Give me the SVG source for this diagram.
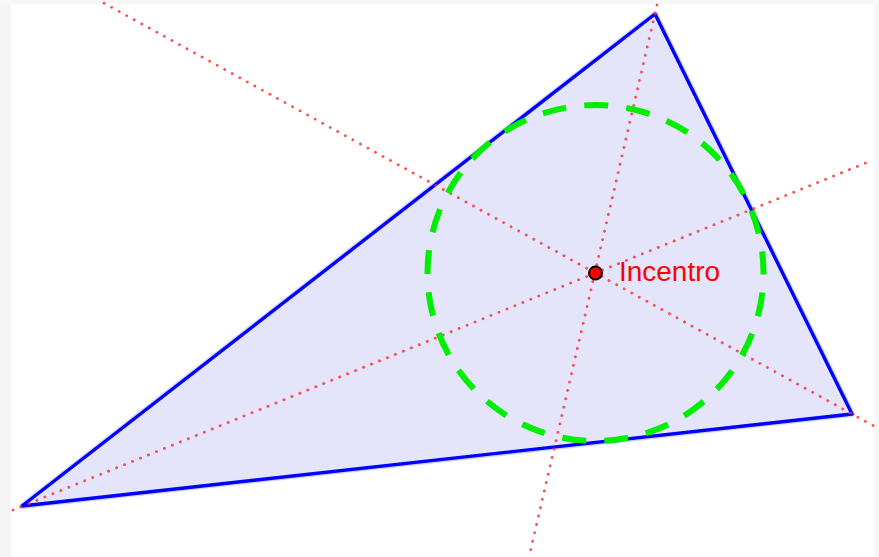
<svg xmlns="http://www.w3.org/2000/svg" width="879" height="557" viewBox="0 0 879 557">
<style>
.bis{stroke:#ff3030;stroke-width:2.8;stroke-dasharray:0.1 8.5;stroke-linecap:round;fill:none;opacity:0.85}
.tri{fill:#e4e4fa;stroke:#0000ff;stroke-width:3.4;stroke-linejoin:round}
.halo{fill:none;stroke:#8080ff;stroke-width:6;stroke-linejoin:round;opacity:0.35}
.inc{fill:none;stroke:#00ee00;stroke-width:6;stroke-dasharray:24 18.24;stroke-dashoffset:22.5}
.lbl{font-family:"Liberation Sans",Arial,sans-serif;font-size:27px;fill:#ff0000}
</style>
<rect width="879" height="557" fill="#ffffff"/>
<rect x="0" y="0" width="11" height="557" fill="#f6f5f6"/>
<rect x="874" y="0" width="5" height="557" fill="#f8f7f8"/>
<rect x="0" y="0" width="879" height="4" fill="#f8f7f8"/>
<g id="triangle">
<polygon class="halo" points="22,506 655,14 852,414"/>
<polygon class="tri" points="22,506 655,14 852,414"/>
</g>
<g id="connectors">
<line class="bis" x1="13" y1="510" x2="873" y2="160"/>
<line class="bis" x1="873" y1="425.5" x2="100" y2="1"/>
<line class="bis" x1="657" y1="5" x2="529" y2="557"/>
</g>
<g id="incircle">
<circle class="inc" cx="595.5" cy="273" r="168"/>
</g>
<g id="incenter">
<circle cx="595.5" cy="273" r="6.5" fill="#ff0000" stroke="#000000" stroke-width="2"/>
<text class="lbl" x="619" y="281" textLength="101" lengthAdjust="spacingAndGlyphs">Incentro</text>
</g>
</svg>
